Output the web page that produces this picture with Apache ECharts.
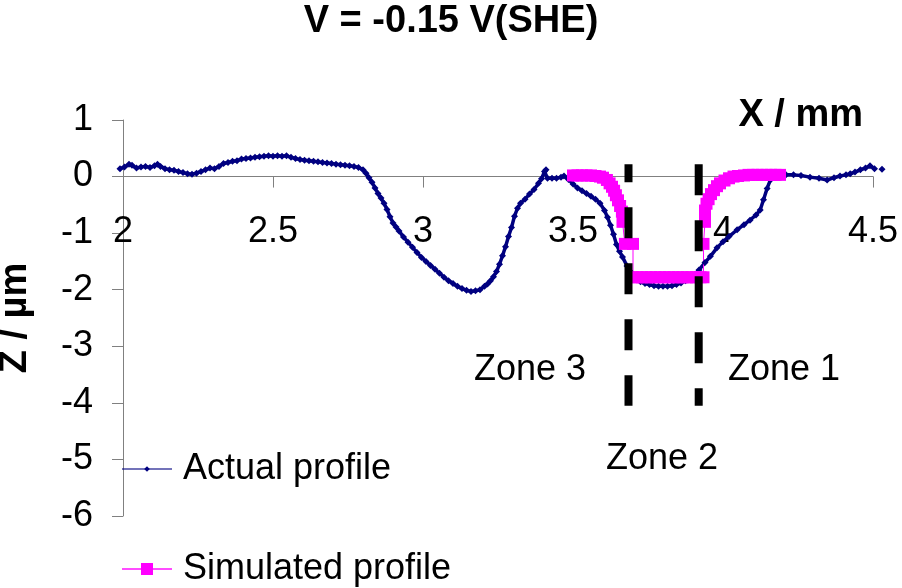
<!DOCTYPE html>
<html>
<head>
<meta charset="utf-8">
<script src="https://cdn.jsdelivr.net/npm/echarts@6/dist/echarts.min.js"></script>
<style>
  html, body { margin: 0; padding: 0; background: #fff; }
  #main { width: 902px; height: 588px; }
</style>
</head>
<body>
<div id="main"></div>
<script>
// measured profile (X / mm, Z / um)
var actualX = [1.99, 2.005, 2.02, 2.03, 2.045, 2.06, 2.075, 2.09, 2.105, 2.115, 2.125, 2.14, 2.155, 2.17, 2.185, 2.2, 2.215, 2.23, 2.245, 2.26,
  2.275, 2.29, 2.305, 2.32, 2.335, 2.35, 2.365, 2.38, 2.395, 2.41, 2.425, 2.44, 2.455, 2.47, 2.485, 2.5, 2.515, 2.53, 2.545, 2.56,
  2.575, 2.59, 2.605, 2.62, 2.635, 2.65, 2.665, 2.68, 2.695, 2.71, 2.725, 2.74, 2.755, 2.77, 2.785, 2.8, 2.81, 2.82, 2.83, 2.84,
  2.85, 2.86, 2.87, 2.88, 2.89, 2.9, 2.91, 2.92, 2.935, 2.95, 2.965, 2.98, 2.995, 3.01, 3.025, 3.04, 3.055, 3.07, 3.085, 3.1,
  3.115, 3.13, 3.145, 3.16, 3.175, 3.19, 3.205, 3.215, 3.225, 3.235, 3.245, 3.255, 3.265, 3.275, 3.285, 3.295, 3.305, 3.315, 3.325, 3.34,
  3.355, 3.37, 3.385, 3.395, 3.405, 3.41, 3.415, 3.43, 3.445, 3.46, 3.47, 3.485, 3.5, 3.515, 3.53, 3.545, 3.56, 3.575, 3.59, 3.605,
  3.615, 3.625, 3.635, 3.645, 3.655, 3.665, 3.68, 3.695, 3.71, 3.725, 3.74, 3.755, 3.77, 3.785, 3.8, 3.815, 3.83, 3.845, 3.86, 3.875,
  3.89, 3.905, 3.92, 3.94, 3.958, 3.98, 4.0, 4.02, 4.047, 4.07, 4.09, 4.11, 4.124, 4.135, 4.147, 4.158, 4.165, 4.19, 4.21, 4.235,
  4.26, 4.29, 4.32, 4.347, 4.37, 4.39, 4.41, 4.424, 4.44, 4.458, 4.475, 4.49, 4.505, 4.53];
var actualZ = [0.14, 0.17, 0.22, 0.2, 0.15, 0.17, 0.18, 0.16, 0.19, 0.22, 0.18, 0.14, 0.12, 0.11, 0.09, 0.07, 0.05, 0.04, 0.06, 0.09,
  0.12, 0.15, 0.14, 0.18, 0.23, 0.25, 0.27, 0.28, 0.31, 0.32, 0.33, 0.34, 0.35, 0.36, 0.37, 0.36, 0.37, 0.36, 0.37, 0.34,
  0.32, 0.3, 0.29, 0.28, 0.27, 0.26, 0.25, 0.24, 0.23, 0.22, 0.21, 0.2, 0.19, 0.18, 0.16, 0.12, 0.06, -0.02, -0.1, -0.2,
  -0.3, -0.38, -0.47, -0.58, -0.71, -0.82, -0.89, -0.96, -1.07, -1.16, -1.25, -1.34, -1.43, -1.5, -1.57, -1.64, -1.71, -1.78, -1.84, -1.89,
  -1.94, -1.98, -2.01, -2.03, -2.02, -2.0, -1.94, -1.9, -1.84, -1.77, -1.68, -1.55, -1.4, -1.24, -1.06, -0.9, -0.7, -0.56, -0.47, -0.4,
  -0.31, -0.23, -0.12, -0.04, 0.09, 0.12, -0.03, -0.03, -0.03, -0.01, 0.01, -0.05, -0.13, -0.2, -0.25, -0.3, -0.35, -0.4, -0.47, -0.6,
  -0.72, -0.86, -1.02, -1.2, -1.32, -1.42, -1.58, -1.7, -1.79, -1.86, -1.89, -1.91, -1.93, -1.94, -1.94, -1.94, -1.93, -1.91, -1.88, -1.84,
  -1.8, -1.73, -1.65, -1.52, -1.41, -1.26, -1.15, -1.06, -0.94, -0.85, -0.77, -0.68, -0.59, -0.41, -0.21, -0.06, 0.02, 0.02, 0.03, 0.03,
  0.02, -0.01, -0.03, -0.06, -0.02, 0.01, 0.03, 0.05, 0.08, 0.12, 0.15, 0.19, 0.14, 0.13];

// simulated profile
var simX = [3.5, 3.515, 3.53, 3.545, 3.56, 3.575, 3.59, 3.6, 3.613, 3.622, 3.63, 3.637, 3.643, 3.65, 3.657, 3.663, 3.665, 3.673, 3.7, 3.7,
  3.715, 3.73, 3.745, 3.76, 3.775, 3.79, 3.805, 3.82, 3.835, 3.85, 3.865, 3.88, 3.895, 3.91, 3.925, 3.935, 3.935, 3.94, 3.94, 3.945,
  3.952, 3.96, 3.97, 3.98, 3.99, 4.005, 4.02, 4.035, 4.05, 4.07, 4.085, 4.1, 4.115, 4.13, 4.145, 4.16, 4.175, 4.19];
var simZ = [0.02, 0.02, 0.02, 0.02, 0.02, 0.01, 0.0, -0.02, -0.06, -0.12, -0.18, -0.25, -0.33, -0.42, -0.52, -0.62, -0.8, -1.19, -1.19, -1.78,
  -1.78, -1.78, -1.78, -1.78, -1.78, -1.78, -1.78, -1.78, -1.78, -1.78, -1.78, -1.78, -1.78, -1.78, -1.78, -1.78, -1.19, -0.8, -0.6, -0.48,
  -0.4, -0.31, -0.24, -0.17, -0.12, -0.07, -0.03, 0.0, 0.01, 0.02, 0.03, 0.03, 0.03, 0.03, 0.03, 0.03, 0.03, 0.03];

// zone boundaries (dashed lines)
var zoneBounds = [3.685, 3.919];
var zoneTop = 0.22, zoneBottom = -4.05;
var xTicks = { min: 2, max: 4.5, step: 0.5 };
var yTicks = { min: -6, max: 1, step: 1 };

function pairs(xs, ys) {
  var out = [];
  for (var i = 0; i < xs.length; i++) out.push([xs[i], ys[i]]);
  return out;
}

var font = "Arial, 'Liberation Sans', sans-serif";
var chart = echarts.init(document.getElementById('main'));

var option = {
  animation: false,
  title: {
    text: 'V = -0.15 V(SHE)',
    left: 'center',
    top: 3,
    padding: 0,
    textStyle: { fontFamily: font, fontSize: 38, fontWeight: 'bold', color: '#000' }
  },
  grid: { left: 123, right: 29, top: 120, bottom: 72, containLabel: false, outerBoundsMode: 'none' },
  xAxis: {
    type: 'value',
    min: xTicks.min, max: xTicks.max, interval: xTicks.step,
    name: 'X / mm',
    nameLocation: 'end',
    nameGap: -10,
    nameTextStyle: { fontFamily: font, fontSize: 38, fontWeight: 'bold', color: '#000',
      align: 'right', verticalAlign: 'bottom', padding: [0, 0, 42, 0] },
    axisLine: { onZero: true, lineStyle: { color: '#808080', width: 1 } },
    axisTick: { length: 11, lineStyle: { color: '#808080' } },
    // labels sit under the zero line in the original (ECharts 6 keeps them at the grid edge)
    axisLabel: { fontFamily: font, fontSize: 36, color: '#000', margin: -302 },
    splitLine: { show: false }
  },
  yAxis: {
    type: 'value',
    min: yTicks.min, max: yTicks.max, interval: yTicks.step,
    name: 'Z / µm',
    nameLocation: 'middle',
    nameRotate: 90,
    nameGap: 88,
    nameTextStyle: { fontFamily: font, fontSize: 38, fontWeight: 'bold', color: '#000' },
    axisLine: { show: true, onZero: false, lineStyle: { color: '#808080', width: 1 } },
    axisTick: { show: true, length: 11, lineStyle: { color: '#808080' } },
    axisLabel: { fontFamily: font, fontSize: 36, color: '#000', margin: 30 },
    splitLine: { show: false }
  },
  legend: [{
    data: ['Actual profile'],
    orient: 'vertical',
    left: 121, top: 451, padding: 0,
    itemWidth: 50, itemHeight: 7,
    selectedMode: false,
    lineStyle: { width: 2, color: 'rgba(0,0,128,0.55)' },
    textStyle: { fontFamily: font, fontSize: 36, color: '#000', padding: [0, 0, 0, 6] }
  }, {
    data: ['Simulated profile'],
    orient: 'vertical',
    left: 121, top: 551, padding: 0,
    itemWidth: 50, itemHeight: 15,
    selectedMode: false,
    lineStyle: { width: 2, color: 'rgba(255,0,255,0.7)' },
    textStyle: { fontFamily: font, fontSize: 36, color: '#000', padding: [0, 0, 0, 6] }
  }],
  series: [{
    name: 'Actual profile',
    type: 'line',
    data: pairs(actualX, actualZ),
    clip: false,
    symbol: 'diamond',
    symbolSize: 7,
    color: '#000080',
    lineStyle: { color: '#000080', width: 3.5 },
    itemStyle: { color: '#000080' }
  }, {
    name: 'Simulated profile',
    type: 'line',
    data: pairs(simX, simZ),
    symbol: 'rect',
    symbolSize: 12,
    color: '#ff00ff',
    lineStyle: { color: '#ff00ff', width: 1 },
    itemStyle: { color: '#ff00ff' }
  }, {
    name: 'zone3-2',
    type: 'line',
    data: [[zoneBounds[0], zoneTop], [zoneBounds[0], zoneBottom]],
    symbol: 'none',
    z: 5,
    lineStyle: { color: '#000', width: 8, type: [31, 25], dashOffset: 13, cap: 'butt' }
  }, {
    name: 'zone2-1',
    type: 'line',
    data: [[zoneBounds[1], zoneTop], [zoneBounds[1], zoneBottom]],
    symbol: 'none',
    z: 5,
    lineStyle: { color: '#000', width: 8, type: [31, 25], cap: 'butt' }
  }],
  graphic: [
    { type: 'text', left: 474, top: 352, style: { text: 'Zone 3', font: '36px ' + font, fill: '#000' } },
    { type: 'text', left: 728, top: 352, style: { text: 'Zone 1', font: '36px ' + font, fill: '#000' } },
    { type: 'text', left: 606, top: 441, style: { text: 'Zone 2', font: '36px ' + font, fill: '#000' } }
  ]
};

chart.setOption(option);
</script>
</body>
</html>
